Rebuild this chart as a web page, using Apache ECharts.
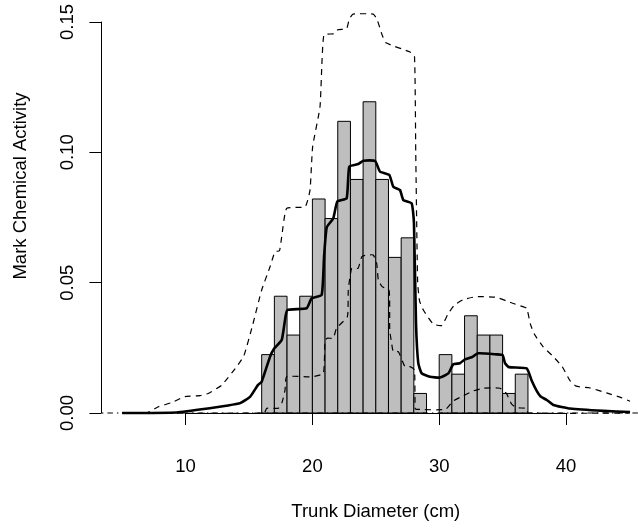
<!DOCTYPE html>
<html>
<head>
<meta charset="utf-8">
<script src="https://cdn.jsdelivr.net/npm/echarts@6/dist/echarts.min.js"></script>
<style>
  html, body { margin: 0; padding: 0; background: #ffffff; }
  #chart { width: 638px; height: 528px; }
</style>
</head>
<body>
<div id="chart"></div>
<script>
// Histogram of trunk diameters (1 cm bins) with the smoothed mark mean and its envelopes
const binEdges = [16, 17, 18, 19, 20, 21, 22, 23, 24, 25, 26, 27, 28, 29, 30, 31, 32, 33, 34, 35, 36, 37];
const binDensity = [0.0224, 0.0448, 0.0299, 0.0448, 0.0821, 0.0746, 0.1119, 0.0896, 0.1194, 0.0896,
                    0.0597, 0.0672, 0.0075, 0, 0.0224, 0.0149, 0.0373, 0.0299, 0.0299, 0.0075, 0.0149];

const meanCurve = [
  [5.0, 0], [9.3, 0.0002], [11.9, 0.0018], [13.2, 0.0028], [14.3, 0.0038], [15.1, 0.0063],
  [15.7, 0.0107], [16.0, 0.0120], [16.66, 0.0216], [17.0, 0.0248], [17.58, 0.0280], [17.84, 0.0357],
  [18.02, 0.0395], [19.55, 0.0402], [19.94, 0.0440], [20.73, 0.0453], [20.92, 0.0600], [21.13, 0.0712],
  [21.65, 0.0747], [21.96, 0.0811], [22.7, 0.0824], [22.91, 0.0945], [23.62, 0.0955], [24.01, 0.0968],
  [24.94, 0.0967], [25.33, 0.0926], [26.07, 0.0913], [26.38, 0.0868], [26.91, 0.0855], [27.17, 0.0817],
  [27.83, 0.0804], [28.01, 0.0728], [28.17, 0.0344], [28.35, 0.0191], [28.62, 0.0152], [29.27, 0.0139],
  [30.06, 0.0136], [30.72, 0.0152], [31.11, 0.0187], [31.64, 0.0191], [32.03, 0.0206], [32.56, 0.0214],
  [33.08, 0.0229], [34.53, 0.0225], [35.0, 0.0222], [35.2, 0.0190], [35.5, 0.0176], [36.9, 0.0171],
  [37.29, 0.0125], [37.69, 0.0085], [38.0, 0.0063], [38.48, 0.0050], [39.0, 0.0031], [40.32, 0.0017],
  [42.94, 0.0008], [45.05, 0.0004]
];

const upperEnvelope = [
  [5.0, 0], [6.9, 0], [7.85, 0.0024], [8.9, 0.0040], [9.95, 0.0063], [11.14, 0.0067], [11.79, 0.0075],
  [12.85, 0.0107], [14.03, 0.0178], [14.6, 0.0220], [15.3, 0.0340], [16.0, 0.0472], [16.66, 0.0561],
  [17.05, 0.0619], [17.4, 0.0622], [17.58, 0.0676], [17.97, 0.0785], [19.42, 0.0791], [19.81, 0.0855],
  [20.02, 0.1022], [20.6, 0.1175], [20.9, 0.1450], [21.7, 0.1455], [22.0, 0.1470], [22.7, 0.1475],
  [22.9, 0.1510], [23.2, 0.1530], [24.8, 0.1530], [25.1, 0.1510], [25.5, 0.1450], [25.8, 0.1420],
  [27.7, 0.1385], [28.05, 0.1370], [28.15, 0.1000], [28.3, 0.0500], [28.45, 0.0430], [28.75, 0.0395],
  [29.53, 0.0341], [30.2, 0.0336], [30.7, 0.0380], [31.2, 0.0414], [31.9, 0.0435], [32.9, 0.0446],
  [34.5, 0.0444], [35.3, 0.0430], [35.8, 0.0421], [36.6, 0.0408], [36.9, 0.0402], [37.2, 0.0340],
  [37.5, 0.0303], [38.2, 0.0254], [39.0, 0.0216], [39.7, 0.0178], [40.3, 0.0125], [40.8, 0.0103],
  [41.9, 0.0096], [43.2, 0.0077], [44.3, 0.0060], [45.05, 0.0045]
];

const lowerEnvelope = [
  [5.0, 0], [16.2, 0], [16.4, 0.0018], [17.3, 0.0018], [17.6, 0.0040], [17.84, 0.0088], [17.97, 0.0139],
  [19.94, 0.0139], [20.86, 0.0152], [21.0, 0.0280], [21.2, 0.0287], [21.65, 0.0287], [21.9, 0.0325],
  [22.76, 0.0370], [22.83, 0.0472], [23.1, 0.0555], [23.6, 0.0555], [23.9, 0.0600], [24.3, 0.0606],
  [24.8, 0.0606], [25.07, 0.0574], [25.2, 0.0510], [25.5, 0.0485], [26.05, 0.0470], [26.1, 0.0318],
  [26.25, 0.0267], [26.38, 0.0235], [26.78, 0.0235], [27.3, 0.0178], [27.7, 0.0178], [28.05, 0.0165],
  [28.1, 0.0018], [28.2, 0.0014], [30.5, 0.0014], [31.1, 0.0046], [31.9, 0.0066], [32.7, 0.0085],
  [33.5, 0.0095], [34.8, 0.0095], [35.3, 0.0075], [35.7, 0.0035], [36.1, 0.0020], [36.9, 0.0018],
  [37.0, 0], [45.05, 0]
];

const referenceLevel = [[3.4, 0], [47.0, 0]];

const xTicks = [10, 20, 30, 40];
const yTicks = [0, 0.05, 0.10, 0.15];

const xTitle = 'Trunk Diameter (cm)';
const yTitle = 'Mark Chemical Activity';

const FONT = '"Liberation Sans", Arial, Helvetica, sans-serif';

const histRows = binDensity.map((d, i) => [binEdges[i], binEdges[i + 1], d]);

const chart = echarts.init(document.getElementById('chart'));

// Each curve is one polyline placed through the cartesian coordinate system;
// it is allowed to run past the ends of the labelled axis range.
function curveSeries(name, points, style, smooth) {
  return {
    type: 'custom',
    name: name,
    clip: false,
    silent: true,
    data: [points[0]],
    renderItem: function (params, api) {
      return {
        type: 'polyline',
        shape: { points: points.map(p => api.coord(p)), smooth: smooth || 0 },
        style: Object.assign({ fill: null, stroke: '#000' }, style)
      };
    }
  };
}

chart.setOption({
  animation: false,
  backgroundColor: '#ffffff',
  grid: { left: 185.6, right: 72, top: 22, bottom: 115, containLabel: false },
  xAxis: {
    type: 'value',
    min: xTicks[0],
    max: xTicks[xTicks.length - 1],
    interval: xTicks[1] - xTicks[0],
    offset: 18,
    name: xTitle,
    nameLocation: 'middle',
    nameGap: 71,
    nameTextStyle: { color: '#000', fontSize: 18.5, fontFamily: FONT },
    axisLine: { show: true, lineStyle: { color: '#000', width: 1 } },
    axisTick: { show: true, length: 12, lineStyle: { color: '#000', width: 1 } },
    axisLabel: { color: '#000', fontSize: 18.5, fontFamily: FONT, margin: 26 },
    splitLine: { show: false }
  },
  yAxis: {
    type: 'value',
    min: yTicks[0],
    max: yTicks[yTicks.length - 1],
    interval: yTicks[1] - yTicks[0],
    offset: 84.2,
    axisLine: { show: true, lineStyle: { color: '#000', width: 1 } },
    axisTick: { show: true, length: 12, lineStyle: { color: '#000', width: 1 } },
    axisLabel: {
      color: '#000', fontSize: 18.5, fontFamily: FONT, rotate: 90, margin: 24,
      formatter: v => v.toFixed(2)
    },
    splitLine: { show: false }
  },
  graphic: [{
    type: 'text',
    x: 21,
    y: 186,
    rotation: Math.PI / 2,
    style: {
      text: yTitle,
      fill: '#000',
      font: '18.5px ' + FONT,
      align: 'center',
      verticalAlign: 'middle'
    }
  }],
  series: [
    {
      type: 'custom',
      name: 'histogram',
      clip: false,
      silent: true,
      encode: { x: [0, 1], y: 2 },
      data: histRows,
      renderItem: function (params, api) {
        const h = api.value(2);
        if (!(h > 0)) return null;
        const p0 = api.coord([api.value(0), 0]);
        const p1 = api.coord([api.value(1), h]);
        return {
          type: 'rect',
          shape: { x: p0[0], y: p1[1], width: p1[0] - p0[0], height: p0[1] - p1[1] },
          style: { fill: '#bebebe', stroke: '#000', lineWidth: 1 }
        };
      }
    },
    curveSeries('reference', referenceLevel, { lineWidth: 1, lineDash: [1.5, 4, 5.5, 4] }, 0),
    curveSeries('upper', upperEnvelope, { lineWidth: 1.2, lineDash: [6, 5] }, 0.15),
    curveSeries('lower', lowerEnvelope, { lineWidth: 1.2, lineDash: [6, 5] }, 0.15),
    curveSeries('mean', meanCurve, { lineWidth: 2.6, lineJoin: 'round' }, 0.15)
  ]
});
</script>
</body>
</html>
